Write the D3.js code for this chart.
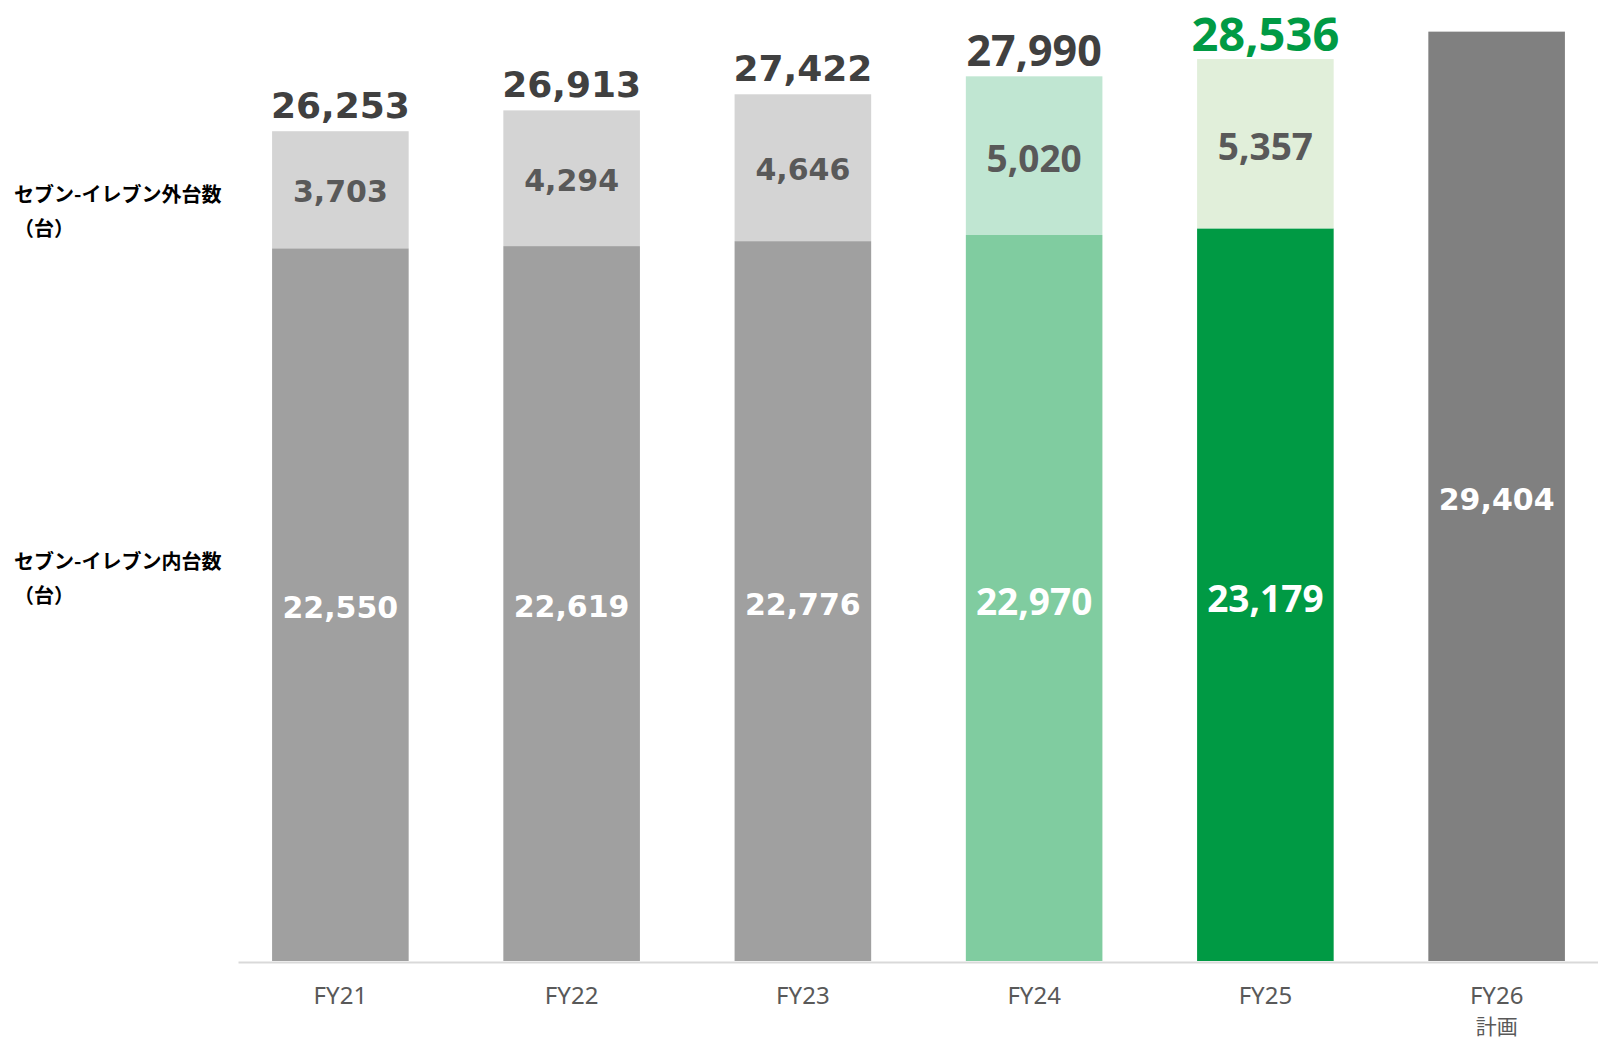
<!DOCTYPE html>
<html>
<head>
<meta charset="utf-8">
<script src="https://cdn.jsdelivr.net/npm/d3@7"></script>
<style>
  html, body { margin: 0; padding: 0; background: #ffffff; }
  svg { display: block; }
</style>
</head>
<body>
<svg id="chart" width="1598" height="1040"></svg>
<script>
// ---- data ----
const categories = ["FY21", "FY22", "FY23", "FY24", "FY25", "FY26"];
const categorySubLabels = ["", "", "", "", "", "計画"];
const insideCounts = [22550, 22619, 22776, 22970, 23179, null];   // セブン-イレブン内台数
const outsideCounts = [3703, 4294, 4646, 5020, 5357, null];       // セブン-イレブン外台数
const totals = [26253, 26913, 27422, 27990, 28536, 29404];
const rowLabels = [["セブン-イレブン外台数", "（台）"], ["セブン-イレブン内台数", "（台）"]];

// ---- styles (per category) ----
const insideColors = ["#a0a0a0", "#a0a0a0", "#a0a0a0", "#80cca0", "#009a44", "#808080"];
const outsideColors = ["#d4d4d4", "#d4d4d4", "#d4d4d4", "#c0e6d2", "#e1efda", "#d4d4d4"];
const VERD = "'DejaVu Sans', Verdana, sans-serif";
const NOTO = "'Noto Sans', sans-serif";
const style = [
  {font: VERD, total: 36, seg: 30, totalColor: "#404040", gap: 13},
  {font: VERD, total: 36, seg: 30, totalColor: "#404040", gap: 13},
  {font: VERD, total: 36, seg: 30, totalColor: "#404040", gap: 13},
  {font: NOTO, total: 43, seg: 37, totalColor: "#404040", gap: 10},
  {font: NOTO, total: 47, seg: 37, totalColor: "#009a44", gap: 8},
  {font: VERD, total: 36, seg: 30, totalColor: "#404040", gap: 13}
];

const svg = d3.select("#chart");
const fmt = d3.format(",");

const x = d3.scaleBand()
  .domain(categories)
  .range([238, 1599])
  .paddingInner(0.4094)
  .paddingOuter(0.1474);

const y = d3.scaleLinear().domain([0, 30000]).range([961, 12.8]);

const rows = categories.map((c, i) => ({
  c, i,
  inside: insideCounts[i],
  outside: outsideCounts[i],
  total: totals[i]
}));

const g = svg.append("g");

// inside (or plan total) segments
g.selectAll("rect.inside").data(rows).join("rect")
  .attr("class", "inside")
  .attr("x", d => x(d.c))
  .attr("width", x.bandwidth())
  .attr("y", d => y(d.inside == null ? d.total : d.inside))
  .attr("height", d => y(0) - y(d.inside == null ? d.total : d.inside))
  .attr("fill", d => insideColors[d.i]);

// outside segments
const stacked = rows.filter(d => d.outside != null);
g.selectAll("rect.outside").data(stacked).join("rect")
  .attr("class", "outside")
  .attr("x", d => x(d.c))
  .attr("width", x.bandwidth())
  .attr("y", d => y(d.inside + d.outside))
  .attr("height", d => y(d.inside) - y(d.inside + d.outside))
  .attr("fill", d => outsideColors[d.i]);

// inside labels
g.selectAll("text.insideLbl").data(rows).join("text")
  .attr("class", "insideLbl")
  .attr("x", d => x(d.c) + x.bandwidth() / 2)
  .attr("y", d => {
    const top = d.inside == null ? d.total : d.inside;
    return (y(0) + y(top)) / 2 + 3;
  })
  .attr("text-anchor", "middle")
  .attr("dominant-baseline", "central")
  .attr("fill", "#ffffff")
  .attr("font-family", d => style[d.i].font)
  .attr("font-weight", "bold")
  .attr("font-size", d => style[d.i].seg)
  .text(d => fmt(d.inside == null ? d.total : d.inside));

// outside labels
g.selectAll("text.outsideLbl").data(stacked).join("text")
  .attr("class", "outsideLbl")
  .attr("x", d => x(d.c) + x.bandwidth() / 2)
  .attr("y", d => (y(d.inside) + y(d.inside + d.outside)) / 2 + 2)
  .attr("text-anchor", "middle")
  .attr("dominant-baseline", "central")
  .attr("fill", "#595959")
  .attr("font-family", d => style[d.i].font)
  .attr("font-weight", "bold")
  .attr("font-size", d => style[d.i].seg)
  .text(d => fmt(d.outside));

// total labels
g.selectAll("text.totalLbl").data(stacked).join("text")
  .attr("class", "totalLbl")
  .attr("x", d => x(d.c) + x.bandwidth() / 2)
  .attr("y", d => y(d.total) - style[d.i].gap)
  .attr("text-anchor", "middle")
  .attr("fill", d => style[d.i].totalColor)
  .attr("font-family", d => style[d.i].font)
  .attr("font-weight", "bold")
  .attr("font-size", d => style[d.i].total)
  .text(d => fmt(d.total));

// x axis
const axis = svg.append("g")
  .attr("transform", `translate(0,${y(0) + 1})`)
  .call(d3.axisBottom(x).tickSize(0).tickSizeOuter(0));
axis.select(".domain").attr("stroke", "#d9d9d9").attr("stroke-width", 2);
axis.selectAll(".tick text").remove();
axis.selectAll(".tick").each(function(c) {
  const i = categories.indexOf(c);
  const t = d3.select(this).append("text")
    .attr("text-anchor", "middle")
    .attr("fill", "#595959")
    .attr("font-family", NOTO)
    .attr("font-size", 24);
  t.append("tspan").attr("x", 0).attr("y", 42).text(c);
  if (categorySubLabels[i]) {
    t.append("tspan").attr("x", 0).attr("y", 72)
      .attr("font-family", "'Noto Sans CJK JP', sans-serif")
      .attr("font-size", 21)
      .text(categorySubLabels[i]);
  }
});

// row labels on the left
const rowY = [193, 560];
rowLabels.forEach((lines, k) => {
  const t = svg.append("text")
    .attr("font-family", "'Noto Sans CJK JP', sans-serif")
    .attr("font-weight", "bold")
    .attr("font-size", 20)
    .attr("fill", "#000000");
  lines.forEach((ln, j) => {
    t.append("tspan")
      .attr("x", 14)
      .attr("y", rowY[k] + j * 34)
      .attr("dominant-baseline", "central")
      .text(ln);
  });
});
</script>
</body>
</html>
